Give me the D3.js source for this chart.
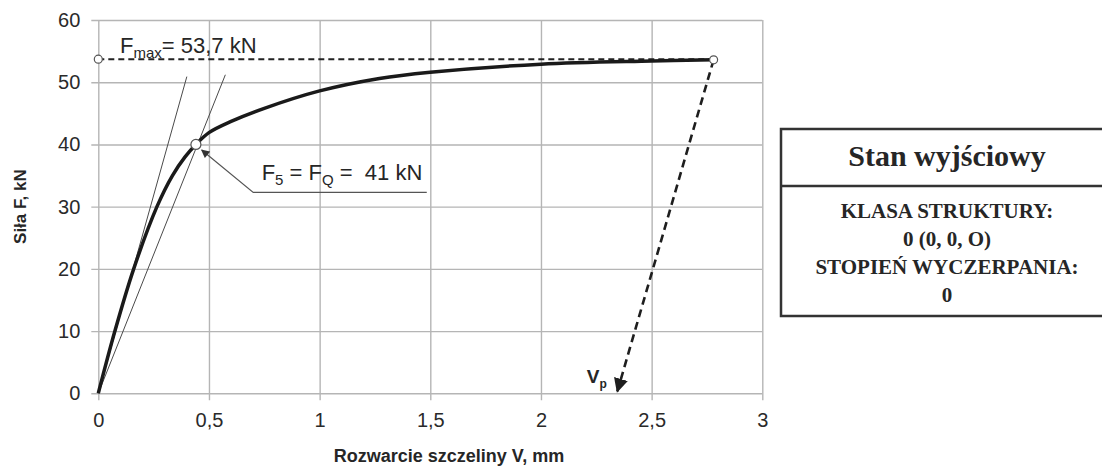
<!DOCTYPE html>
<html>
<head>
<meta charset="utf-8">
<script src="https://cdn.jsdelivr.net/npm/d3@7"></script>
<style>
  body { margin: 0; background: #fff; }
  svg text { fill: #262626; white-space: pre; }
  .sans { font-family: "Liberation Sans", Arial, sans-serif; }
  .serif { font-family: "Liberation Serif", "Times New Roman", serif; }
</style>
</head>
<body>
<svg id="chart" class="sans"></svg>
<script>
// ticks
var xTicks = [0, 0.5, 1, 1.5, 2, 2.5, 3];
var yTicks = [0, 10, 20, 30, 40, 50, 60];

// load curve: crack opening V [mm] vs force F [kN]
var crackV = [0, 0.075, 0.160, 0.265, 0.335, 0.392, 0.441, 0.5, 0.6, 0.75, 1.0, 1.27, 1.5, 2.0, 2.5, 2.78];
var forceF = [0, 10, 20, 30, 35, 38, 40, 41.9, 43.7, 45.8, 48.6, 50.6, 51.6, 52.9, 53.4, 53.6];

// the two thin secant lines from the origin
var secantA = [[0, 0], [0.40, 50.9]];
var secantB = [[0, 0], [0.574, 51.2]];

// points
var fMax = 53.7;
var vMax = 2.78;
var pointQ = [0.441, 40];
var pointVp = [2.345, 0.3];

// annotation leader for F5 = FQ
var leaderQ = [[1.484, 32.3], [0.700, 32.3], [0.467, 39.1]];

// box texts
var boxTitle = "Stan wyjściowy";
var boxLines = ["KLASA STRUKTURY:", "0 (0, 0, O)", "STOPIEŃ WYCZERPANIA:", "0"];

var width = 1102;
var height = 468;

var svg = d3.select("#chart")
    .attr("width", width)
    .attr("height", height);

var xScale = d3.scaleLinear()
    .domain([0, 3])
    .range([98.3, 762.3]);

var yScale = d3.scaleLinear()
    .domain([0, 60])
    .range([393.3, 20]);

var comma = function(d) { return String(d).replace(".", ","); };

var defs = svg.append("defs");
defs.append("marker")
    .attr("id", "headBig")
    .attr("viewBox", "0 0 10 10")
    .attr("refX", 9).attr("refY", 5)
    .attr("markerWidth", 5.5).attr("markerHeight", 5.5)
    .attr("markerUnits", "strokeWidth")
    .attr("orient", "auto")
    .append("path").attr("d", "M0,0L10,5L0,10z").attr("fill", "#1e1e1e");
defs.append("marker")
    .attr("id", "headSmall")
    .attr("viewBox", "0 0 10 10")
    .attr("refX", 9).attr("refY", 5)
    .attr("markerWidth", 8).attr("markerHeight", 7)
    .attr("markerUnits", "strokeWidth")
    .attr("orient", "auto")
    .append("path").attr("d", "M0,0L10,5L0,10z").attr("fill", "#333");

// x axis + vertical grid
var xAxis = svg.append("g")
    .attr("transform", "translate(0," + (yScale(0) + 7) + ")")
    .call(d3.axisBottom(xScale)
        .tickValues(xTicks)
        .tickFormat(comma)
        .tickSizeInner(-(yScale(0) - yScale(60) + 7))
        .tickSizeOuter(0)
        .tickPadding(13));
xAxis.select(".domain").remove();
xAxis.selectAll("line").attr("stroke", "#b5b5b5").attr("stroke-width", 1.4);
xAxis.selectAll("text").attr("font-size", 20).style("fill", "#2a2a2a");

// y axis + horizontal grid
var yAxis = svg.append("g")
    .attr("transform", "translate(" + (xScale(0) - 7) + ",0)")
    .call(d3.axisLeft(yScale)
        .tickValues(yTicks)
        .tickSizeInner(-(xScale(3) - xScale(0) + 7))
        .tickSizeOuter(0)
        .tickPadding(11));
yAxis.select(".domain").remove();
yAxis.selectAll("line").attr("stroke", "#b5b5b5").attr("stroke-width", 1.4);
yAxis.selectAll("text").attr("font-size", 20).style("fill", "#2a2a2a");
svg.selectAll(".tick text").attr("font-family", null);

// axis titles
svg.append("text")
    .attr("x", 449)
    .attr("y", 462)
    .attr("text-anchor", "middle")
    .attr("font-size", 18)
    .attr("font-weight", "bold")
    .text("Rozwarcie szczeliny V, mm");

svg.append("text")
    .attr("transform", "translate(26," + yScale(30) + ") rotate(-90)")
    .attr("text-anchor", "middle")
    .attr("font-size", 17)
    .attr("font-weight", "bold")
    .text("Siła F, kN");

var line = d3.line()
    .x(function(d) { return xScale(d[0]); })
    .y(function(d) { return yScale(d[1]); });

// secants
[secantA, secantB].forEach(function(s) {
    svg.append("path")
        .attr("d", line(s))
        .attr("fill", "none")
        .attr("stroke", "#4a4a4a")
        .attr("stroke-width", 1);
});

// Fmax dashed line
svg.append("path")
    .attr("d", line([[0, fMax], [vMax, fMax]]))
    .attr("fill", "none")
    .attr("stroke", "#222")
    .attr("stroke-width", 2)
    .attr("stroke-dasharray", "6,4");

// main curve
var curvePts = crackV.map(function(v, i) { return [v, forceF[i]]; });
var smooth = d3.line()
    .x(function(d) { return xScale(d[0]); })
    .y(function(d) { return yScale(d[1]); })
    .curve(d3.curveCatmullRom.alpha(0.5));
svg.append("path")
    .attr("d", smooth(curvePts))
    .attr("fill", "none")
    .attr("stroke", "#1a1a1a")
    .attr("stroke-width", 3.5)
    .attr("stroke-linejoin", "round");

// dashed arrow to Vp
svg.append("path")
    .attr("d", line([[vMax, forceF[forceF.length - 1]], pointVp]))
    .attr("fill", "none")
    .attr("stroke", "#1e1e1e")
    .attr("stroke-width", 2.6)
    .attr("stroke-dasharray", "8,5")
    .attr("marker-end", "url(#headBig)");

// leader for F5 = FQ
svg.append("path")
    .attr("d", line(leaderQ))
    .attr("fill", "none")
    .attr("stroke", "#555")
    .attr("stroke-width", 1.2)
    .attr("marker-end", "url(#headSmall)");

// open circles
var circles = [[0, fMax], [vMax, forceF[forceF.length - 1]], pointQ];
svg.selectAll("circle.mark")
    .data(circles)
    .enter()
    .append("circle")
    .attr("class", "mark")
    .attr("cx", function(d) { return xScale(d[0]); })
    .attr("cy", function(d) { return yScale(d[1]); })
    .attr("r", function(d, i) { return i == 2 ? 5 : 4; })
    .attr("fill", "#fff")
    .attr("stroke", "#555")
    .attr("stroke-width", 1.2);

// Fmax label
var tMax = svg.append("text")
    .attr("x", xScale(0.098))
    .attr("y", yScale(54.7))
    .attr("font-size", 22);
tMax.append("tspan").text("F");
tMax.append("tspan").attr("font-size", 15).attr("dy", 5).text("max");
tMax.append("tspan").attr("dy", -5).text("= 53,7 kN");

// F5 = FQ label
var tQ = svg.append("text")
    .attr("x", xScale(0.738))
    .attr("y", yScale(34.3))
    .attr("font-size", 22);
tQ.append("tspan").text("F");
tQ.append("tspan").attr("font-size", 15).attr("dy", 5).text("5");
tQ.append("tspan").attr("dy", -5).text(" = F");
tQ.append("tspan").attr("font-size", 15).attr("dy", 5).text("Q");
tQ.append("tspan").attr("dy", -5).text(" =  41 kN");

// Vp label
var tV = svg.append("text")
    .attr("x", xScale(2.207))
    .attr("y", yScale(1.65))
    .attr("font-size", 19)
    .attr("font-weight", "bold");
tV.append("tspan").text("V");
tV.append("tspan").attr("font-size", 12).attr("dy", 5).text("p");

// state box on the right
var box = svg.append("g");
box.append("rect")
    .attr("x", 781).attr("y", 129)
    .attr("width", 335).attr("height", 187)
    .attr("fill", "#fff")
    .attr("stroke", "#333")
    .attr("stroke-width", 2.5);
box.append("line")
    .attr("x1", 781).attr("x2", 1116)
    .attr("y1", 186).attr("y2", 186)
    .attr("stroke", "#333")
    .attr("stroke-width", 2.5);
box.append("text")
    .attr("class", "serif")
    .attr("x", 947).attr("y", 166)
    .attr("text-anchor", "middle")
    .attr("font-weight", "bold")
    .attr("font-size", 30)
    .text(boxTitle);
box.selectAll("text.line")
    .data(boxLines)
    .enter()
    .append("text")
    .attr("class", "line serif")
    .attr("x", 947)
    .attr("y", function(d, i) { return 218 + i * 28; })
    .attr("text-anchor", "middle")
    .attr("font-weight", "bold")
    .attr("font-size", 21)
    .text(function(d) { return d; });
</script>
</body>
</html>
